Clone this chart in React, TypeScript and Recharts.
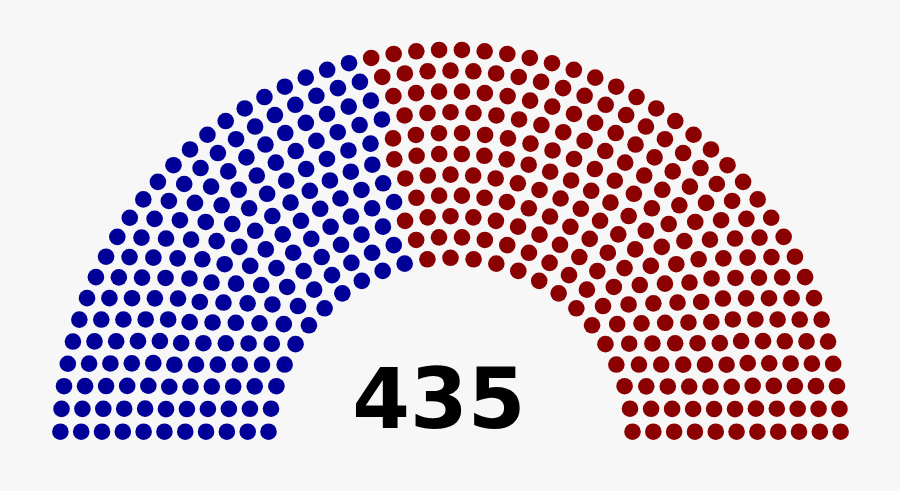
import React from "react";
import { PieChart, Pie } from "recharts";

// 114th US House: seats per party, laid out in 11 arcs
const parties = ["Democratic", "Republican"];
const partySeats = [188, 247];
const rowSeats = [25, 28, 31, 34, 37, 40, 42, 45, 48, 51, 54];
const demByRow = [11, 12, 13, 15, 16, 17, 18, 20, 21, 22, 23];
const totalLabel = String(partySeats.reduce((a, b) => a + b, 0));

const partyColor: Record<string, string> = {
  Democratic: "#000099",
  Republican: "#8b0000",
};

const W = 900;
const H = 491;
const CX = 450.5;
const CY = 440;
const INNER = 182.2;
const GAP = 20.8;
const DOT = 8.3;

const RAD = Math.PI / 180;

const Seat = (p: any) => {
  const party = p.party ?? p.payload?.party;
  const mid = (p.innerRadius + p.outerRadius) / 2;
  const pos = p.tooltipPosition ?? {
    x: p.cx + mid * Math.cos(-p.midAngle * RAD),
    y: p.cy + mid * Math.sin(-p.midAngle * RAD),
  };
  return <circle key={`seat-${p.index}`} cx={pos.x} cy={pos.y} r={DOT} fill={partyColor[party]} />;
};

const rows = rowSeats.map((n, i) => {
  const r = INNER + i * GAP;
  const edge = Math.sin(DOT / r) / RAD;
  const step = (180 - 2 * edge) / (n - 1);
  const data = Array.from({ length: n }, (_, j) => ({
    seat: j,
    party: j < demByRow[i] ? parties[0] : parties[1],
    value: 1,
  }));
  return { r, data, start: 180 - edge + step / 2, end: edge - step / 2 };
});

export default function App() {
  return (
    <div style={{ position: "fixed", left: 0, top: 0, width: W, height: H, background: "#f7f7f7" }}>
      <PieChart width={W} height={H} margin={{ top: 0, right: 0, bottom: 0, left: 0 }}>
        {rows.map((row, i) => (
          <Pie
            key={i}
            data={row.data}
            dataKey="value"
            nameKey="party"
            cx={CX}
            cy={CY}
            innerRadius={row.r - 1}
            outerRadius={row.r + 1}
            startAngle={row.start}
            endAngle={row.end}
            fill="none"
            stroke="none"
            label={Seat}
            labelLine={false}
            isAnimationActive={false}
          />
        ))}
      </PieChart>
      <svg width={W} height={H} style={{ position: "absolute", left: 0, top: 0, pointerEvents: "none" }}>
        <text
          x={439}
          y={428}
          textAnchor="middle"
          fontFamily="DejaVu Sans"
          fontWeight="bold"
          fontSize={83}
          fill="#000"
        >
          {totalLabel}
        </text>
      </svg>
    </div>
  );
}
